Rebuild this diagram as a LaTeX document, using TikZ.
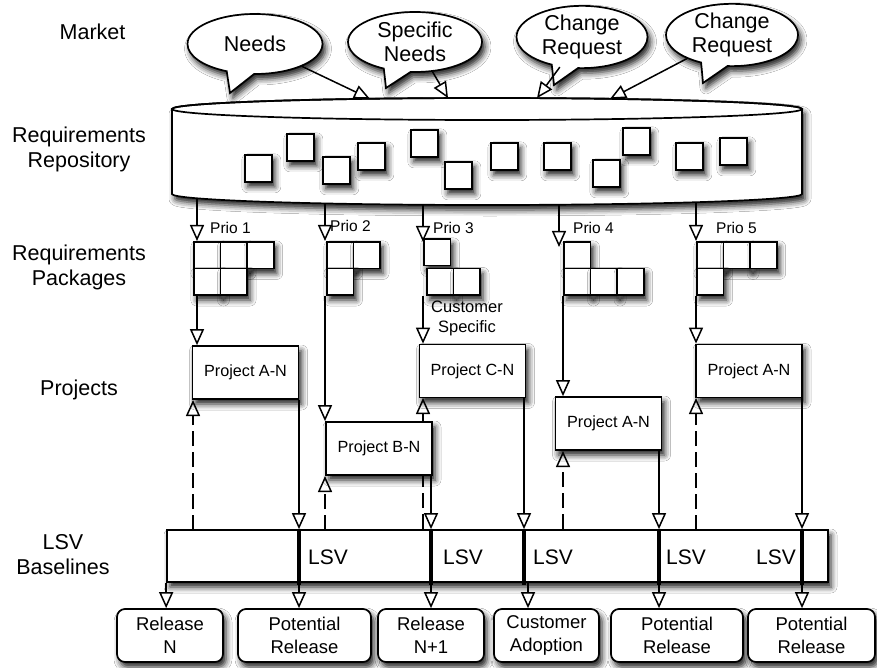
\documentclass[tikz,border=0pt]{standalone}
\usepackage{fontspec}
\setmainfont{Liberation Sans}
\usetikzlibrary{arrows.meta,shapes.callouts,shadows.blur}

\tikzset{
  shad/.style={blur shadow={shadow xshift=3pt, shadow yshift=-5pt, shadow blur radius=6pt, shadow opacity=90}},
  ln/.style={line width=1.5pt},
  arr/.style={ln, -{Triangle[open,length=16pt,width=14pt]}},
  dsh/.style={arr, dash pattern=on 15pt off 6pt},
  sq/.style={draw, fill=white, line width=1.7pt, minimum size=26.6pt, inner sep=0pt, anchor=north west, shad},
  rsq/.style={sq, minimum size=27pt},
  proj/.style={draw, fill=white, line width=1.7pt, minimum width=106pt, minimum height=53pt, inner sep=0pt, font=\fontsize{16.2}{19}\selectfont, shad},
  rel/.style={draw, fill=white, line width=1.7pt, rounded corners=8pt, minimum height=53pt, inner sep=0pt, align=center, font=\fontsize{18.5}{23}\selectfont, shad},
  bub/.style={ellipse callout, draw, fill=white, line width=1.7pt, inner sep=0pt, align=center, font=\fontsize{21.5}{24}\selectfont, callout pointer arc=24, shad},
  lab/.style={align=center, font=\fontsize{21.5}{25}\selectfont, inner sep=0pt},
  prio/.style={anchor=west, inner sep=0pt, font=\fontsize{15.5}{18}\selectfont},
  cust/.style={align=center, inner sep=0pt, font=\fontsize{16.5}{20}\selectfont},
  lsv/.style={anchor=west, inner sep=0pt, font=\fontsize{21}{25}\selectfont},
  sepline/.style={line width=4.5pt},
}

\begin{document}
\begin{tikzpicture}[x=1pt,y=-1pt]
\useasboundingbox (0,0) rectangle (877,668);
\fill[white] (0,0) rectangle (877,668);

% left labels
\node[lab] (lmarket) at (92.5,32) {Market};
\node[lab] (lrepo) at (79,149.5) {Requirements\\Repository};
\node[lab] (lpack) at (79,267.5) {Requirements\\Packages};
\node[lab] (lproj) at (79,390) {Projects};
\node[lab] (llsv) at (63,555) {LSV\\Baselines};

% repository cylinder
\draw[line width=1.7pt, fill=white, shad] (172,109) -- (172,194)
  arc[start angle=180, end angle=360, x radius=315pt, y radius=11pt]
  -- (802,109)
  arc[start angle=0, end angle=180, x radius=315pt, y radius=11pt] -- cycle;
\draw[line width=1.7pt] (487,109) ellipse[x radius=315pt, y radius=11pt];

% repository squares
\node[rsq] (r1) at (244,154) {};
\node[rsq] (r2) at (286,133) {};
\node[rsq] (r3) at (322,156) {};
\node[rsq] (r4) at (357,142) {};
\node[rsq] (r5) at (410,129) {};
\node[rsq] (r6) at (444,161) {};
\node[rsq] (r7) at (490,142) {};
\node[rsq] (r8) at (543,142) {};
\node[rsq] (r9) at (592,159) {};
\node[rsq] (r10) at (622,127) {};
\node[rsq] (r11) at (675,142) {};
\node[rsq] (r12) at (719,137) {};

% bubbles
\node[bub, minimum width=135pt, minimum height=60pt, callout absolute pointer={(230,93)}] (bneeds) at (255,44) {Needs};
\node[bub, minimum width=134pt, minimum height=60pt, callout absolute pointer={(386,88)}] (bspec) at (415,42) {Specific\\Needs};
\node[bub, minimum width=131pt, minimum height=60pt, callout absolute pointer={(554,85)}] (bcr1) at (582,37) {Change\\Request};
\node[bub, minimum width=132pt, minimum height=58pt, callout absolute pointer={(703,83)}] (bcr2) at (732,35) {Change\\Request};

% points on the cylinder
\coordinate (rt1) at (370,98.8);
\coordinate (rt2) at (448,98.1);
\coordinate (rt3) at (537,98.1);
\coordinate (rt4) at (610,98.9);
\coordinate (rb1) at (197,198.3);
\coordinate (rb2) at (325,203.4);
\coordinate (rb3) at (423,204.8);
\coordinate (rb4) at (559,204.7);
\coordinate (rb5) at (696,202.2);

\draw[arr] (bneeds) -- (rt1);
\draw[arr] (bspec) -- (rt2);
\draw[arr] (bcr1) -- (rt3);
\draw[arr] (bcr2) -- (rt4);

% packages
\node[sq] (p1a) at (193,241) {};
\node[sq] (p1b) at (219.6,241) {};
\node[sq] (p1c) at (246.2,241) {};
\node[sq] (p1d) at (193,267.6) {};
\node[sq] (p1e) at (219.6,267.6) {};

\node[sq] (p2a) at (326,241) {};
\node[sq] (p2b) at (352.6,241) {};
\node[sq] (p2c) at (326,267.6) {};

\node[sq] (p3a) at (423,238) {};
\node[sq] (p3b) at (426,267.6) {};
\node[sq] (p3c) at (452.6,267.6) {};

\node[sq] (p4a) at (563,241) {};
\node[sq] (p4b) at (563,267.6) {};
\node[sq] (p4c) at (589.6,267.6) {};
\node[sq] (p4d) at (616.2,267.6) {};

\node[sq] (p5a) at (696,241) {};
\node[sq] (p5b) at (722.6,241) {};
\node[sq] (p5c) at (749.2,241) {};
\node[sq] (p5d) at (696,267.6) {};

\node[prio] (prio1) at (210,228) {Prio 1};
\node[prio] (prio2) at (330,226) {Prio 2};
\node[prio] (prio3) at (433,228) {Prio 3};
\node[prio] (prio4) at (573,228) {Prio 4};
\node[prio] (prio5) at (716,228) {Prio 5};
\node[cust] (custspec) at (467,318) {Customer\\Specific};

% repository -> packages
\coordinate (pt3) at (423,242);
\coordinate (pt4) at (559,247);
\draw[arr] (rb1) -- (rb1 |- p1a.north);
\draw[arr] (rb2) -- (rb2 |- p2a.north);
\draw[arr] (rb3) -- (pt3);
\draw[arr] (rb4) -- (pt4);
\draw[arr] (rb5) -- (rb5 |- p5a.north);

% LSV bar and separators
\node[draw, fill=white, line width=1.7pt, minimum width=661pt, minimum height=52pt, inner sep=0pt, shad] (bar) at (497.5,556) {};
\coordinate (s1) at (299,556);
\coordinate (s2) at (431,556);
\coordinate (s3) at (524,556);
\coordinate (s3b) at (528,556);
\coordinate (s4) at (659,556);
\coordinate (s5) at (802,556);
\coordinate (d4) at (563,556);

% dashed feedback lines (drawn before project boxes)
\draw[dsh] (193,530) -- (193,400);
\draw[dsh] (325,530) -- (325,476);
\draw[dsh] (rb3 |- bar.north) -- (423,398);
\draw[dsh] (d4 |- bar.north) -- (563,451);
\draw[dsh] (696,530) -- (696,398);

% projects
\node[proj] (pA1) at (245.5,372.5) {Project A-N};
\node[proj] (pB) at (379,448.5) {Project B-N};
\node[proj] (pC) at (472.5,371) {Project C-N};
\node[proj] (pA2) at (608.5,423.5) {Project A-N};
\node[proj] (pA3) at (749,371) {Project A-N};

% packages -> projects
\draw[arr] (rb1 |- p1d.south) -- (rb1 |- pA1.north);
\draw[arr] (rb2 |- p2c.south) -- (rb2 |- pB.north);
\draw[arr] (rb3 |- p3b.south) -- (rb3 |- pC.north);
\draw[arr] (d4 |- p4b.south) -- (d4 |- pA2.north);
\draw[arr] (rb5 |- p5d.south) -- (rb5 |- pA3.north);

% projects -> bar
\draw[arr] (s1 |- pA1.south) -- (s1 |- bar.north);
\draw[arr] (s2 |- pB.south) -- (s2 |- bar.north);
\draw[arr] (s3 |- pC.south) -- (s3 |- bar.north);
\draw[arr] (s4 |- pA2.south) -- (s4 |- bar.north);
\draw[arr] (s5 |- pA3.south) -- (s5 |- bar.north);

% separators
\draw[sepline] (299,528.5) -- (299,584.5);
\draw[sepline] (431,528.5) -- (431,584.5);
\draw[sepline] (524,528.5) -- (524,584.5);
\draw[sepline] (659,528.5) -- (659,584.5);
\draw[sepline] (802,528.5) -- (802,584.5);

\node[lsv] (lsv1) at (308,557) {LSV};
\node[lsv] (lsv2) at (443,557) {LSV};
\node[lsv] (lsv3) at (533,557) {LSV};
\node[lsv] (lsv4) at (666,557) {LSV};
\node[lsv] (lsv5) at (756,557) {LSV};

% releases
\node[rel, minimum width=106pt] (rel1) at (170,635.5) {Release\\N};
\node[rel, minimum width=133pt] (rel2) at (304.5,635.5) {Potential\\Release};
\node[rel, minimum width=106pt] (rel3) at (431,635.5) {Release\\N+1};
\node[rel, minimum width=105pt] (rel4) at (546.5,635.5) {Customer\\Adoption};
\node[rel, minimum width=132pt] (rel5) at (677,635.5) {Potential\\Release};
\node[rel, minimum width=127pt] (rel6) at (811.5,635.5) {Potential\\Release};

% bar -> releases
\draw[arr] (bar.south west) -- (bar.south west |- rel1.north);
\draw[arr] (s1 |- bar.south) -- (s1 |- rel2.north);
\draw[arr] (s2 |- bar.south) -- (s2 |- rel3.north);
\draw[arr] (s3b |- bar.south) -- (s3b |- rel4.north);
\draw[arr] (s4 |- bar.south) -- (s4 |- rel5.north);
\draw[arr] (s5 |- bar.south) -- (s5 |- rel6.north);
\end{tikzpicture}
\end{document}
